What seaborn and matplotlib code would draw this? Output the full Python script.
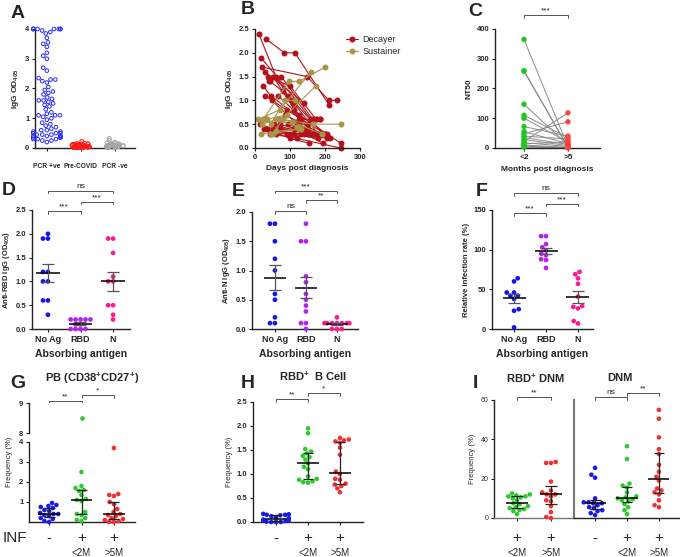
import warnings

import numpy as np
import pandas as pd
import seaborn as sns
import matplotlib
matplotlib.use("Agg")
import matplotlib.pyplot as plt
from matplotlib.lines import Line2D
from matplotlib.transforms import blended_transform_factory

warnings.filterwarnings("ignore")
np.random.seed(3)

W, H = 680, 557

# ---------------- data ----------------
# A: IgG OD405 by cohort
a_groups = ["PCR +ve", "Pre-COVID", "PCR -ve"]
a_colors = ["#2a2aff", "#ff1a1a", "#a6a6a6"]
a_pcr_pos = [4.0, 4.0, 4.0, 4.0, 4.0, 4.0, 4.0, 4.0, 3.95, 3.9, 3.85, 3.7, 3.55, 3.5,
             3.4, 3.2, 3.1, 3.0, 2.7, 2.6, 2.35, 2.3, 2.3, 2.25, 2.2, 2.05, 1.95,
             1.9, 1.85, 1.8, 1.7, 1.65, 1.6, 1.6, 1.55, 1.5, 1.45, 1.4, 1.3, 1.2,
             1.15, 1.1, 1.1, 1.1, 1.05, 1.0, 0.95, 0.85, 0.8, 0.75, 0.7, 0.65, 0.6,
             0.6, 0.55, 0.55, 0.5, 0.5, 0.5, 0.45, 0.45, 0.45, 0.4, 0.4, 0.4, 0.4,
             0.35, 0.35, 0.35, 0.3, 0.3, 0.3, 0.25, 0.25, 0.2]
a_pre_covid = [0.22, 0.16, 0.15, 0.14, 0.14, 0.13, 0.12, 0.12, 0.11, 0.1, 0.1, 0.1,
               0.09, 0.09, 0.08, 0.08, 0.08, 0.07, 0.07, 0.07, 0.06, 0.06, 0.06,
               0.05, 0.05, 0.05, 0.05, 0.04, 0.04, 0.04, 0.04, 0.03, 0.03, 0.03,
               0.03, 0.02, 0.02, 0.02, 0.01, 0.01, 0.12, 0.1, 0.09, 0.08, 0.07,
               0.06, 0.05, 0.04, 0.03, 0.02]
a_pcr_neg = [0.32, 0.26, 0.2, 0.18, 0.16, 0.15, 0.14, 0.13, 0.12, 0.12, 0.11, 0.1,
             0.1, 0.09, 0.09, 0.08, 0.08, 0.07, 0.07, 0.06, 0.06, 0.05, 0.05, 0.05,
             0.04, 0.04, 0.03, 0.03, 0.02, 0.02, 0.01, 0.01, 0.1, 0.08, 0.06, 0.04]

# B: longitudinal IgG, one list per subject
b_colors = {"Decayer": "#b3121b", "Sustainer": "#a8974a"}
decayer_days = [[11, 60, 110], [30, 84, 114, 212], [17, 118, 160], [21, 149, 211, 235],
                [28, 140], [23, 45, 150], [38, 100, 175], [52, 130, 185], [43, 95, 195],
                [40, 75, 165], [28, 90, 200], [48, 120, 215], [65, 125, 245], [80, 160],
                [105, 180], [15, 90, 150], [25, 110, 175], [35, 100, 155], [42, 120, 245],
                [55, 140, 195], [50, 75, 110], [60, 130, 205], [70, 170], [85, 190],
                [95, 140], [100, 180], [120, 160, 200], [125, 175, 185], [30, 70, 150],
                [110, 140, 205]]
decayer_igg = [[2.4, 1.5, 0.9], [2.3, 2.0, 2.0, 0.9], [1.9, 1.0, 0.6], [1.7, 1.5, 1.0, 1.0],
               [1.6, 0.95], [1.3, 1.1, 0.5], [1.5, 1.3, 0.6], [1.5, 0.6, 0.6], [1.4, 1.1, 0.3],
               [1.4, 1.5, 0.6], [1.1, 0.8, 0.3], [1.0, 0.5, 0.2], [1.1, 0.7, 0.1], [1.2, 0.3],
               [1.0, 0.3], [0.5, 0.3, 0.3], [0.4, 0.3, 0.3], [0.4, 0.2, 0.1], [0.3, 0.2, 0.0],
               [0.5, 0.3, 0.1], [0.4, 0.4, 0.4], [0.3, 0.3, 0.2], [0.5, 0.3], [0.7, 0.3],
               [0.5, 0.35], [0.3, 0.2], [0.45, 0.3, 0.3], [0.6, 0.6, 0.6], [0.6, 0.4, 0.4],
               [0.8, 0.4, 0.3]]
sustainer_days = [[9, 70, 160], [23, 98, 127, 200], [18, 45, 130], [35, 90, 173],
                  [50, 80, 166, 245], [20, 60, 120], [70, 105, 190], [45, 85, 115],
                  [60, 125]]
sustainer_igg = [[0.6, 0.8, 1.6], [0.6, 1.4, 1.4, 1.7], [0.3, 0.3, 0.4], [0.6, 0.7, 1.3],
                 [0.3, 0.6, 0.5, 0.5], [0.5, 0.6, 0.45], [0.6, 0.55, 0.3], [0.5, 1.0, 1.0],
                 [0.35, 0.4]]

# C: paired NT50
c_lt2 = [365, 260, 258, 147, 110, 100, 72, 55, 48, 40, 35, 28, 22, 18, 14, 10, 6, 3]
c_gt5 = [5, 3, 2, 10, 35, 20, 40, 15, 88, 30, 12, 8, 118, 5, 20, 2, 1, 0]
c_colors = ["#22c422", "#ff4343"]

# D-F: absorption experiments
abs_groups = ["No Ag", "RBD", "N"]
abs_colors = ["#1414f0", "#b322ee", "#ff1a8c"]
d_noag = [2.0, 1.9, 1.9, 1.2, 1.2, 1.0, 1.0, 0.6, 0.6, 0.3]
d_rbd = [0.2, 0.2, 0.2, 0.2, 0.2, 0.1, 0.1, 0.0, 0.0, 0.0, 0.0]
d_n = [1.9, 1.9, 1.6, 1.1, 1.0, 1.0, 0.5, 0.5, 0.3, 0.2]
e_noag = [1.8, 1.8, 1.5, 1.2, 1.0, 0.6, 0.5, 0.2, 0.1, 0.1]
e_rbd = [1.8, 1.5, 1.5, 0.9, 0.8, 0.6, 0.5, 0.4, 0.3, 0.1, 0.1, 0.0]
e_n = [0.2, 0.1, 0.1, 0.1, 0.1, 0.1, 0.1, 0.1, 0.0, 0.0, 0.0]
f_noag = [64, 60, 46, 46, 42, 42, 38, 25, 23, 2]
f_rbd = [117, 117, 107, 103, 99, 95, 93, 88, 87, 77]
f_n = [72, 69, 64, 57, 41, 29, 28, 26, 10, 7]

# G-I: B cell frequencies
inf_groups = ["neg", "lt2", "gt5"]
inf_colors = ["#1a1ae6", "#2fc82f", "#f03030"]
g_neg = [0.95, 0.85, 0.8, 0.75, 0.7, 0.6, 0.55, 0.45, 0.4, 0.4, 0.35, 0.3, 0.2, 0.15, 0.05, 0.0]
g_lt2 = [8.5, 2.5, 1.8, 1.7, 1.6, 1.55, 1.35, 1.15, 1.1, 1.05, 0.5, 0.4, 0.35, 0.2, 0.1, 0.05]
g_gt5 = [3.7, 1.4, 1.35, 1.3, 1.0, 0.9, 0.65, 0.5, 0.4, 0.35, 0.3, 0.2, 0.15, 0.1, 0.05, 0.0, 0.0]
h_neg = [0.17, 0.16, 0.15, 0.15, 0.14, 0.12, 0.1, 0.08, 0.05, 0.04, 0.03, 0.02, 0.01, 0.0, 0.0, 0.0]
h_lt2 = [1.95, 1.85, 1.52, 1.47, 1.43, 1.38, 1.35, 1.3, 1.22, 1.15, 1.1, 0.95, 0.9, 0.88,
         0.85, 0.83, 0.82]
h_gt5 = [1.75, 1.72, 1.7, 1.68, 1.65, 1.55, 1.4, 1.05, 1.0, 0.9, 0.88, 0.8, 0.78, 0.75,
         0.7, 0.62]
i_rbd_lt2 = [12.5, 12, 11.5, 11, 11, 10.5, 10, 9, 7.5, 7, 6, 5.5, 5, 4.5, 4, 3.5, 2]
i_rbd_gt5 = [28.5, 28, 28, 18.5, 14, 13, 12, 12, 11, 9, 8.5, 6, 3, 0.5, 0]
i_dnm_neg = [25.5, 22, 20.5, 10, 8, 8, 7.5, 7.5, 6.5, 5.5, 5, 4, 3.5, 2.5, 1.5]
i_dnm_lt2 = [36.5, 30, 17.5, 16.5, 15.5, 13, 11, 10.5, 10, 9.5, 9, 8.5, 7, 5.5, 4, 2]
i_dnm_gt5 = [55, 50.5, 41, 35, 32.5, 27, 23.5, 21, 19, 15, 14, 13, 12, 9, 6.5, 5.5]

# ---------------- style ----------------
sns.set_style("ticks")
plt.rcParams["font.family"] = ["Liberation Sans", "DejaVu Sans"]
plt.rcParams["font.weight"] = "bold"
plt.rcParams["axes.labelweight"] = "bold"
plt.rcParams["mathtext.fontset"] = "custom"
plt.rcParams["mathtext.rm"] = "Liberation Sans:bold"
plt.rcParams["mathtext.default"] = "rm"

fig = plt.figure(figsize=(W / 100, H / 100), dpi=100)


def px_ax(left, top, right, bottom):
    return fig.add_axes([left / W, 1 - bottom / H, (right - left) / W, (bottom - top) / H])


def style(ax, labelsize=5.5, lw=1.0, color="#222222"):
    sns.despine(ax=ax)
    for s in ("left", "bottom"):
        ax.spines[s].set_linewidth(lw)
        ax.spines[s].set_color(color)
    ax.tick_params(length=2.5, width=0.8, labelsize=labelsize, pad=1.5, color=color)


def fy(ypx):
    return 1 - ypx / H


def bracket(ax, x0, x1, ypx, text, fs=6):
    tr = blended_transform_factory(ax.transData, fig.transFigure)
    d = 2.5 / H
    ax.plot([x0, x0, x1, x1], [fy(ypx) - d, fy(ypx), fy(ypx), fy(ypx) - d], transform=tr,
            color="#555555", lw=0.7, clip_on=False)
    ax.text((x0 + x1) / 2, fy(ypx - 4.5), text, transform=tr, ha="center", va="center",
            fontsize=fs, fontweight="normal")


def long_df(groups, values):
    return pd.DataFrame({"group": np.repeat(groups, [len(v) for v in values]),
                         "value": np.concatenate(values)})


def swarm(ax, groups, values, colors, size=3.3):
    df = long_df(groups, values)
    sns.swarmplot(data=df, x="group", y="value", hue="group", order=groups, hue_order=groups,
                  palette=dict(zip(groups, colors)), size=size, linewidth=0, legend=False, ax=ax)
    for c in ax.collections:
        c.set_clip_on(False)
    ax.set_xlabel("")
    ax.set_ylabel("")
    return df


def mean_sem(ax, x, vals, hw=0.36, cw=0.18):
    m = np.mean(vals)
    s = np.std(vals, ddof=1) / np.sqrt(len(vals))
    ax.hlines(m, x - hw, x + hw, color="black", lw=1.1, zorder=6)
    ax.vlines(x, m - s, m + s, color="#555555", lw=0.9, zorder=6)
    ax.hlines([m - s, m + s], x - cw, x + cw, color="#555555", lw=0.9, zorder=6)


def median_iqr(ax, x, vals, hw=0.33, cw=0.17):
    q1, med, q3 = np.percentile(vals, [25, 50, 75])
    ax.hlines(med, x - hw, x + hw, color="black", lw=1.1, zorder=6)
    ax.vlines(x, q1, q3, color="#222222", lw=0.9, zorder=6)
    ax.hlines([q1, q3], x - cw, x + cw, color="#222222", lw=0.9, zorder=6)


def inf_labels(ax, signs, subs):
    tr = blended_transform_factory(ax.transData, fig.transFigure)
    for i, (s, sub) in enumerate(zip(signs, subs)):
        ax.text(i, fy(538), s, transform=tr, ha="center", va="center", fontsize=11,
                fontweight="normal")
        if sub:
            ax.text(i, fy(553), sub, transform=tr, ha="center", va="center", fontsize=7,
                    fontweight="normal")


def letter(xpx, ypx, s):
    fig.text(xpx / W, fy(ypx), s, fontsize=14, fontweight="bold", ha="center", va="center")


# ---------------- A ----------------
axA = px_ax(35, 29, 135, 148)
dfA = long_df(a_groups, [a_pcr_pos, a_pre_covid, a_pcr_neg])
a_pal = dict(zip(a_groups, a_colors))
sns.swarmplot(data=dfA[dfA["group"] == "PCR +ve"], x="group", y="value", hue="group",
              order=a_groups, hue_order=a_groups, palette=a_pal, size=2.6,
              linewidth=0, legend=False, ax=axA)
sns.stripplot(data=dfA[dfA["group"] != "PCR +ve"], x="group", y="value", hue="group",
              order=a_groups, hue_order=a_groups, palette=a_pal, size=2.8, jitter=0.27,
              linewidth=0, legend=False, ax=axA)
for c in axA.collections:
    fc = c.get_facecolor()
    c.set_edgecolor(fc)
    c.set_facecolor("none")
    c.set_linewidth(0.7)
    c.set_clip_on(False)
axA.set_xlabel("")
axA.set_xlim(-0.35, 2.6)
axA.set_ylim(0, 4)
axA.set_yticks([0, 1, 2, 3, 4])
style(axA)
axA.tick_params(axis="x", labelsize=4.8, pad=8)
axA.set_ylabel("IgG OD$_{405}$", fontsize=6, labelpad=3)
letter(18, 13, "A")

# ---------------- B ----------------
axB = px_ax(255, 29, 360, 148)
rows = []
for grp, days, igg in [("Decayer", decayer_days, decayer_igg),
                       ("Sustainer", sustainer_days, sustainer_igg)]:
    for k, (dd, vv) in enumerate(zip(days, igg)):
        for d_, v_ in zip(dd, vv):
            rows.append({"group": grp, "subject": f"{grp}{k}", "days": d_, "igg": v_})
dfB = pd.DataFrame(rows)
sns.lineplot(data=dfB, x="days", y="igg", hue="group", units="subject", estimator=None,
             palette=b_colors, marker="o", markersize=4.3, markeredgewidth=0, lw=0.8,
             legend=False, ax=axB)
for ln in axB.lines:
    ln.set_clip_on(False)
axB.set_xlim(0, 300)
axB.set_ylim(0, 2.5)
axB.set_xticks([0, 100, 200, 300])
axB.set_yticks(np.arange(0, 2.51, 0.5))
axB.set_yticklabels([f"{v:.1f}" for v in np.arange(0, 2.51, 0.5)])
style(axB)
axB.set_xlabel("Days post diagnosis", fontsize=6, labelpad=3)
axB.set_ylabel("IgG OD$_{405}$", fontsize=6, labelpad=3)
handles = [Line2D([], [], color=c, marker="o", markersize=4.3, markeredgewidth=0, lw=0.8)
           for c in b_colors.values()]
fig.legend(handles, list(b_colors.keys()), loc="upper left", bbox_to_anchor=(338 / W, fy(27)),
           frameon=False, handlelength=1.3, handletextpad=0.5, labelspacing=0.35,
           prop={"weight": "normal", "size": 6.5})
letter(248, 9, "B")

# ---------------- C ----------------
axC = px_ax(495, 29, 600, 148)
dfC = pd.DataFrame({"pair": list(range(len(c_lt2))) * 2,
                    "t": [0] * len(c_lt2) + [1] * len(c_gt5),
                    "nt50": c_lt2 + c_gt5})
sns.lineplot(data=dfC, x="t", y="nt50", units="pair", estimator=None, color="#8a8a8a",
             lw=0.7, legend=False, ax=axC)
sns.scatterplot(data=dfC, x="t", y="nt50", hue="t", palette=dict(enumerate(c_colors)),
                s=15, linewidth=0, legend=False, ax=axC, zorder=3)
for c in axC.collections:
    c.set_clip_on(False)
axC.set_xlim(-0.66, 1.73)
axC.set_ylim(0, 400)
axC.set_xticks([0, 1])
axC.set_xticklabels(["<2", ">5"])
axC.set_yticks([0, 100, 200, 300, 400])
style(axC)
axC.tick_params(axis="x", labelsize=6)
axC.set_xlabel("Months post diagnosis", fontsize=6, labelpad=4)
axC.set_ylabel("NT50", fontsize=6, labelpad=3)
bracket(axC, 0, 1, 15, "***")
letter(475, 12, "C")

# ---------------- D, E, F ----------------
abs_panels = [
    ("D", (32, 210, 130, 329), (-0.49, 2.52), [d_noag, d_rbd, d_n], 2.5, 0.5, "{:.1f}",
     "Anti-RBD IgG (OD$_{405}$)", [(0, 1, 211, "***"), (1, 2, 202, "***"), (0, 2, 191, "ns")],
     (9, 191)),
    ("E", (252, 212, 358, 329), (-0.74, 2.68), [e_noag, e_rbd, e_n], 2.0, 0.5, "{:.1f}",
     "Anti-N IgG (OD$_{405}$)", [(0, 1, 211, "ns"), (1, 2, 200, "**"), (0, 2, 191, "***")],
     (238, 192)),
    ("F", (492, 210, 593, 329), (-0.69, 2.47), [f_noag, f_rbd, f_n], 150, 50, "{:.0f}",
     "Relative infection rate (%)", [(0, 1, 213, "***"), (1, 2, 204, "***"), (0, 2, 193, "ns")],
     (482, 192)),
]
for name, rect, xl, vals, ymax, step, fmt, ylab, brs, lpos in abs_panels:
    ax = px_ax(*rect)
    swarm(ax, abs_groups, vals, abs_colors, size=3.4)
    for i, v in enumerate(vals):
        mean_sem(ax, i, v)
    ax.set_xlim(*xl)
    ax.set_ylim(0, ymax)
    ticks = np.arange(0, ymax + step / 2, step)
    ax.set_yticks(ticks)
    ax.set_yticklabels([fmt.format(t) for t in ticks])
    style(ax)
    ax.tick_params(axis="x", labelsize=6.5)
    ax.set_xlabel("Absorbing antigen", fontsize=7.5, labelpad=4)
    ax.set_ylabel(ylab, fontsize=5.5, labelpad=3)
    for x0, x1, ypx, txt in brs:
        bracket(ax, x0, x1, ypx, txt)
    letter(*lpos, name)

# ---------------- G (broken axis) ----------------
axG = px_ax(29, 442, 135, 522)
axGu = px_ax(29, 403, 135, 433)
g_vals = [g_neg, g_lt2, g_gt5]
swarm(axG, inf_groups, [[v for v in vv if v <= 4] for vv in g_vals], inf_colors, size=3.3)
dfGu = long_df(inf_groups, g_vals)
dfGu = dfGu[dfGu["value"] > 4]
sns.stripplot(data=dfGu, x="group", y="value", hue="group", order=inf_groups,
              hue_order=inf_groups, palette=dict(zip(inf_groups, inf_colors)), jitter=False,
              size=3.3, linewidth=0, legend=False, ax=axGu)
for i, v in enumerate(g_vals):
    median_iqr(axG, i, v)
for ax in (axG, axGu):
    ax.set_xlim(-0.62, 2.65)
    ax.set_xlabel("")
    ax.set_ylabel("")
axG.set_ylim(0, 4)
axG.set_yticks([1, 2, 3, 4])
axGu.set_ylim(8, 9)
axGu.set_yticks([8, 9])
style(axG)
style(axGu)
axG.set_xticks([0, 1, 2])
axG.set_xticklabels([])
axGu.spines["bottom"].set_visible(False)
axGu.set_xticks([])
fig.text(10 / W, fy(462), "Frequency (%)", rotation=90, fontsize=5.5, fontweight="normal",
         ha="center", va="center")
fig.text(15 / W, fy(538), "INF", fontsize=11, fontweight="normal", ha="center", va="center")
inf_labels(axG, ["-", "+", "+"], ["", "<2M", ">5M"])
bracket(axG, 0, 1, 401, "**")
bracket(axG, 1, 2, 395, "*")
fig.text(92 / W, fy(378), "PB (CD38$^{+}$CD27$^{+}$)", fontsize=8, ha="center", va="center")
letter(18, 383, "G")

# ---------------- H ----------------
axH = px_ax(253, 402, 363, 522)
h_vals = [h_neg, h_lt2, h_gt5]
swarm(axH, inf_groups, h_vals, inf_colors, size=3.3)
for i, v in enumerate(h_vals):
    median_iqr(axH, i, v)
axH.set_xlim(-0.72, 2.72)
axH.set_ylim(0, 2.5)
ticks = np.arange(0, 2.51, 0.5)
axH.set_yticks(ticks)
axH.set_yticklabels([f"{t:.1f}" for t in ticks])
axH.set_xticklabels([])
style(axH)
axH.set_ylabel("Frequency (%)", fontsize=5.5, fontweight="normal", labelpad=3)
inf_labels(axH, ["-", "+", "+"], ["", "<2M", ">5M"])
bracket(axH, 0, 1, 399, "**")
bracket(axH, 1, 2, 393, "*")
fig.text(313 / W, fy(376), "RBD$^{+}$  B Cell", fontsize=8, ha="center", va="center")
letter(248, 383, "H")

# ---------------- I ----------------
axI1 = px_ax(494, 400, 574, 518)
axI2 = px_ax(574, 400, 680, 518)
i1_vals = [i_rbd_lt2, i_rbd_gt5]
i2_vals = [i_dnm_neg, i_dnm_lt2, i_dnm_gt5]
swarm(axI1, inf_groups[1:], i1_vals, inf_colors[1:], size=3.3)
swarm(axI2, inf_groups, i2_vals, inf_colors, size=3.3)
for i, v in enumerate(i1_vals):
    median_iqr(axI1, i, v)
for i, v in enumerate(i2_vals):
    median_iqr(axI2, i, v)
axI1.set_xlim(-0.68, 1.68)
axI2.set_xlim(-0.66, 2.66)
for ax in (axI1, axI2):
    ax.set_ylim(0, 60)
    ax.set_xticklabels([])
style(axI1, labelsize=5)
style(axI2, labelsize=5)
axI1.set_yticks([0, 20, 40, 60])
for lab in axI1.get_yticklabels():
    lab.set_fontweight("normal")
axI1.spines["bottom"].set_color("#777777")
axI2.spines["left"].set_color("#777777")
axI2.spines["left"].set_linewidth(1.5)
axI2.set_yticks([])
axI1.set_ylabel("Frequency (%)", fontsize=5.5, fontweight="normal", labelpad=3)
inf_labels(axI1, ["+", "+"], ["<2M", ">5M"])
inf_labels(axI2, ["-", "+", "+"], ["", "<2M", ">5M"])
bracket(axI1, 0, 1, 397, "**")
bracket(axI2, 0, 1, 397, "ns")
bracket(axI2, 1, 2, 393, "**")
fig.text(535 / W, fy(378), "RBD$^{+}$ DNM", fontsize=8, ha="center", va="center")
fig.text(620 / W, fy(378), "DNM", fontsize=8, ha="center", va="center")
letter(475, 383, "I")

fig.savefig("out.png", dpi=100)
